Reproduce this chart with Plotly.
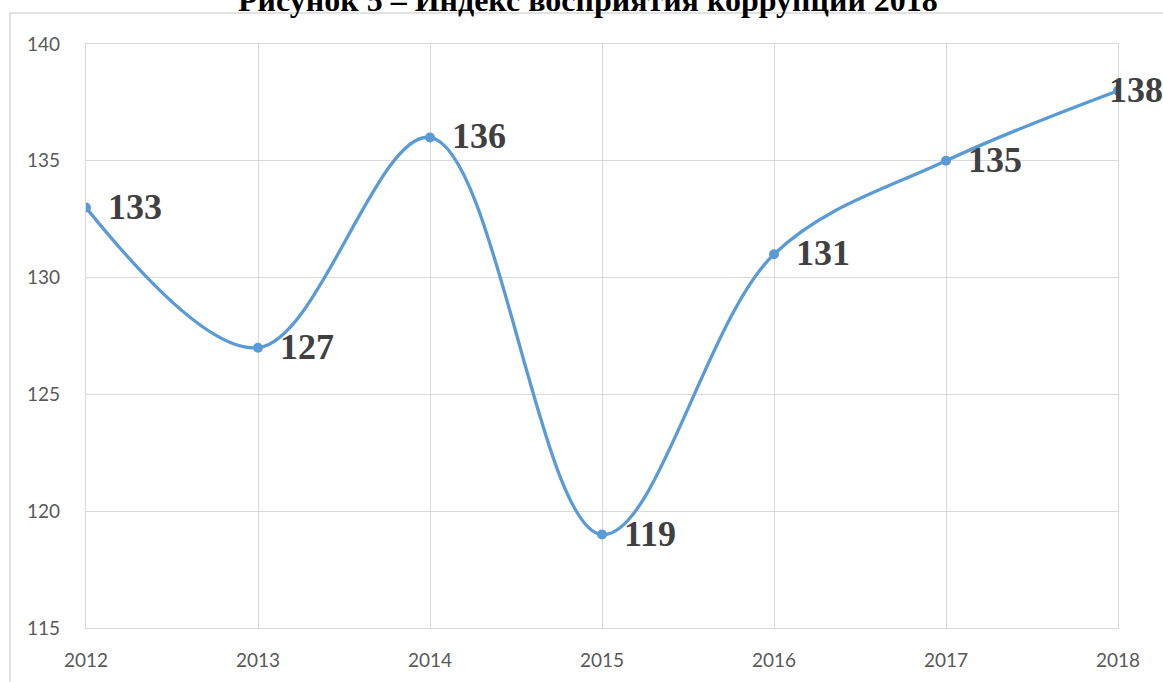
import plotly.graph_objects as go

years = [2012, 2013, 2014, 2015, 2016, 2017, 2018]
values = [133, 127, 136, 119, 131, 135, 138]
labels = [str(v) for v in values]
y_ticks = [115, 120, 125, 130, 135, 140]
title_text = "Рисунок 5 – Индекс восприятия коррупции 2018"

line_color = "#5B9BD5"
grid_color = "#D9D9D9"

fig = go.Figure()
fig.add_trace(go.Scatter(
    x=years, y=values, mode="lines+markers",
    line=dict(color=line_color, width=3.3, shape="spline", smoothing=1.0),
    marker=dict(color=line_color, size=10),
    hoverinfo="x+y", showlegend=False,
))

xshifts = [20, 20, 20, 20, 20, 20, -11]
for yr, v, lab, xs in zip(years, values, labels, xshifts):
    fig.add_annotation(
        x=yr, y=v, text=lab, showarrow=False,
        xanchor="left", yanchor="middle", xshift=xs, yshift=1,
        font=dict(family="Liberation Serif", size=36, color="#404040", weight="bold"),
    )

# title (partially cut off at the top of the picture)
fig.add_annotation(
    xref="paper", yref="paper", x=(588 - 86) / 1032, y=(628 - 20) / 584,
    text="<b>" + title_text + "</b>", showarrow=False,
    xanchor="center", yanchor="bottom",
    font=dict(family="Liberation Serif", size=32, color="#000000"),
)

# chart area frame
fig.add_shape(
    type="rect", xref="paper", yref="paper",
    x0=(10 - 86) / 1032, x1=3, y0=-3, y1=(628 - 13) / 584,
    line=dict(color=grid_color, width=1.5), fillcolor="rgba(0,0,0,0)", layer="below",
)

fig.update_layout(
    width=1163, height=682,
    margin=dict(l=86, r=45, t=44, b=54),
    paper_bgcolor="white", plot_bgcolor="white",
    xaxis=dict(
        range=[2012, 2018], tickmode="array", tickvals=years,
        ticktext=[str(y) for y in years],
        showgrid=True, gridcolor=grid_color, gridwidth=1.3,
        showline=True, linecolor=grid_color, linewidth=1.3, mirror=True,
        zeroline=False, ticks="", ticklabelstandoff=15,
        tickfont=dict(family="Lato", size=19, color="#595959"),
    ),
    yaxis=dict(
        range=[115, 140], tickmode="array", tickvals=y_ticks,
        showgrid=True, gridcolor=grid_color, gridwidth=1.3,
        showline=True, linecolor=grid_color, linewidth=1.3, mirror=True,
        zeroline=False, ticks="", ticklabelstandoff=21,
        tickfont=dict(family="Lato", size=19, color="#595959"),
    ),
)

fig.write_html(
    "out.html",
    config={"displayModeBar": False},
    post_script="document.body.style.margin='0px';document.body.style.overflow='hidden';",
)
